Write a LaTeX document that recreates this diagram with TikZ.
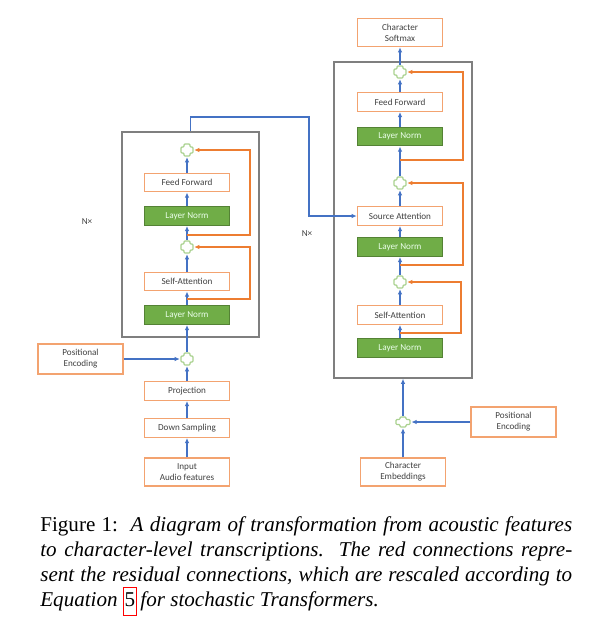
\documentclass[tikz,border=0pt]{standalone}
\usepackage{fontspec}
\setmainfont{Carlito}
\newfontfamily\capfont{Liberation Serif}
\usetikzlibrary{arrows.meta,calc}

\definecolor{boxorange}{HTML}{F3A370}
\definecolor{resorange}{HTML}{ED7D31}
\definecolor{flowblue}{HTML}{4472C4}
\definecolor{normgreen}{HTML}{70AD47}
\definecolor{normedge}{HTML}{548235}
\definecolor{plusgreen}{HTML}{A9D18E}
\definecolor{textgray}{HTML}{404040}
\definecolor{framegray}{HTML}{7F7F7F}

\begin{document}
\begin{tikzpicture}[x=0.02cm, y=-0.02cm,
    every node/.style={font=\fontsize{5.2}{6.2}\selectfont, text=textgray},
    block/.style={draw=boxorange, line width=0.8pt, fill=white, minimum width=1.7cm,
      minimum height=0.37cm, inner sep=1pt, align=center},
    tallblock/.style={block, minimum height=0.56cm},
    normblock/.style={block, draw=normedge, fill=normgreen, text=green!8},
    frame/.style={draw=framegray, line width=0.8pt},
    flow/.style={draw=flowblue, line width=0.6pt, -{Latex[length=3pt,width=2.6pt]}},
    res/.style={draw=resorange, line width=0.8pt, -{Latex[length=3pt,width=2.6pt]}},
    plus/.style={minimum size=0.27cm, inner sep=0,
      path picture={\draw[plusgreen, line width=0.7pt, rounded corners=0.5pt]
        (path picture bounding box.center) ++(-3,-6) -- ++(6,0) -- ++(0,3) -- ++(3,0)
        -- ++(0,6) -- ++(-3,0) -- ++(0,3) -- ++(-6,0) -- ++(0,-3) -- ++(-3,0)
        -- ++(0,-6) -- ++(3,0) -- cycle;}},
    flatplus/.style={minimum width=0.32cm, minimum height=0.23cm, inner sep=0,
      path picture={\draw[plusgreen, line width=0.7pt, rounded corners=0.5pt]
        (path picture bounding box.center) ++(-3,-5) -- ++(6,0) -- ++(0,2.5) -- ++(4,0)
        -- ++(0,5) -- ++(-4,0) -- ++(0,2.5) -- ++(-6,0) -- ++(0,-2.5) -- ++(-4,0)
        -- ++(0,-5) -- ++(4,0) -- cycle;}}]
  \fill[white] (0,0) rectangle (592,620);
  \useasboundingbox (0,0) rectangle (592,620);

  % encoder
  \node[frame, minimum width=2.74cm, minimum height=4.1cm] (encbox) at (190.5,234.5) {};
  \node (encrep) at (87,222) {N×};
  \node[tallblock] (inp) at (187,472) {Input\\Audio features};
  \node[block] (down) at (187,428) {Down Sampling};
  \node[block] (proj) at (187,391) {Projection};
  \node[plus] (encplus0) at (187,359) {};
  \node[block, minimum height=0.6cm] (encpos) at (80.5,359) {Positional\\Encoding};
  \node[normblock] (encln1) at (187,315) {Layer Norm};
  \node[block] (encsa) at (187,281.5) {Self-Attention};
  \node[plus] (encplus1) at (187,247) {};
  \node[normblock] (encln2) at (187,216) {Layer Norm};
  \node[block] (encff) at (187,182.5) {Feed Forward};
  \node[plus] (encplus2) at (187,150) {};

  % decoder
  \node[frame, minimum width=2.76cm, minimum height=6.32cm] (decbox) at (403,220) {};
  \node (decrep) at (307,234) {N×};
  \node[tallblock] (decsm) at (400,32.5) {Character\\Softmax};
  \node[plus] (decplus3) at (400,72) {};
  \node[block] (decff) at (400,102) {Feed Forward};
  \node[normblock] (decln3) at (400,136.5) {Layer Norm};
  \node[plus] (decplus2) at (400,183) {};
  \node[block] (decsrc) at (400,216) {Source Attention};
  \node[normblock] (decln2) at (400,247) {Layer Norm};
  \node[plus] (decplus1) at (400,282) {};
  \node[block] (decsa) at (400,315) {Self-Attention};
  \node[normblock] (decln1) at (400,348) {Layer Norm};
  \node[flatplus] (decplus0) at (403,422) {};
  \node[block, minimum height=0.6cm] (decpos) at (513.5,422) {Positional\\Encoding};
  \node[tallblock] (decemb) at (403,472) {Character\\Embeddings};

  % main flow
  \foreach \a/\b in {inp/down, down/proj, proj/encplus0, encplus0/encln1, encln1/encsa,
      encsa/encplus1, encplus1/encln2, encln2/encff, encff/encplus2,
      decln1/decsa, decsa/decplus1, decplus1/decln2, decln2/decsrc, decsrc/decplus2,
      decplus2/decln3, decln3/decff, decff/decplus3, decplus3/decsm, decemb/decplus0}
    \draw[flow] (\a) -- (\b);
  \draw[flow] (encpos) -- (encplus0);
  \draw[flow] (decpos) -- (decplus0);
  \draw[flow] (decplus0) -- (decplus0 |- decbox.south);
  \draw[flow] (encbox.north) -- (190.5,117) -| (309,216) -- (decsrc.west);

  % residual connections
  \draw[res] (187,299) -- (250,299) |- (encplus1.east);
  \draw[res] (187,235) -- (250,235) |- (encplus2.east);
  \draw[res] (400,333) -- (461,333) |- (decplus1.east);
  \draw[res] (400,265) -- (463,265) |- (decplus2.east);
  \draw[res] (400,160) -- (463,160) |- (decplus3.east);

  % caption
  \node[anchor=north west, inner sep=0, text width=10.64cm, align=justify, text=black,
    font=\capfont\fontsize{12}{14.3}\selectfont] (caption) at (40,516)
    {Figure 1:\ \ \textit{A diagram of transformation from acoustic features\linebreak
     to character-level transcriptions.\ \ The red connections repre-\linebreak
     sent the residual connections, which are rescaled according to\linebreak
     Equation {\setlength\fboxsep{0.6pt}\fcolorbox{red}{white}{\upshape\strut 5}}\,for stochastic Transformers.}};
\end{tikzpicture}
\end{document}
